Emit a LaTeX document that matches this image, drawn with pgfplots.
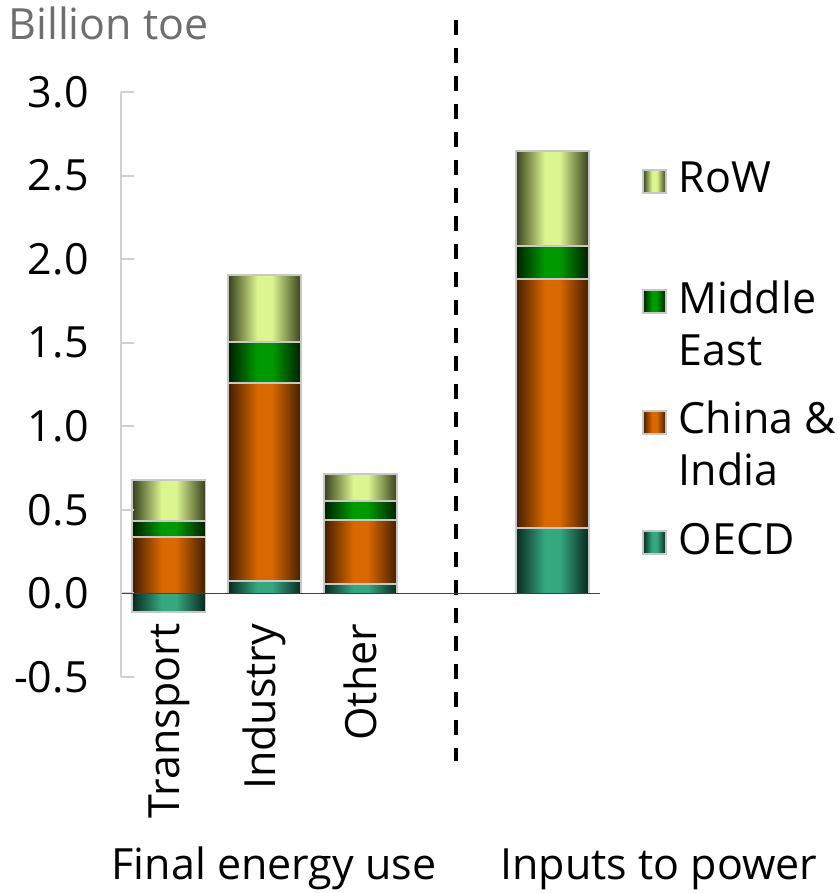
\documentclass[border=0pt]{standalone}
\usepackage{fontspec}
\setmainfont{Open Sans}
\usepackage{pgfplots}
\usepackage{pgfplotstable}
\pgfplotsset{compat=1.18}

\definecolor{axisgray}{HTML}{D0D0D0}
\definecolor{bordergray}{HTML}{C8C8C8}
\definecolor{unitgray}{HTML}{6E6E6E}
\definecolor{rowL}{HTML}{DCF590}
\definecolor{rowD}{HTML}{38401C}
\definecolor{meL}{HTML}{009A00}
\definecolor{meD}{HTML}{001E00}
\definecolor{ciL}{HTML}{DA6800}
\definecolor{ciD}{HTML}{441E00}
\definecolor{oeL}{HTML}{36A880}
\definecolor{oeD}{HTML}{08281E}

% dark edges, bright centre band (the 25bp--75bp part spans the bar)
\pgfdeclarehorizontalshading{rowS}{100bp}{color(0bp)=(rowD); color(25bp)=(rowD);
  color(45bp)=(rowL); color(55bp)=(rowL); color(75bp)=(rowD); color(100bp)=(rowD)}
\pgfdeclarehorizontalshading{meS}{100bp}{color(0bp)=(meD); color(25bp)=(meD);
  color(45bp)=(meL); color(55bp)=(meL); color(75bp)=(meD); color(100bp)=(meD)}
\pgfdeclarehorizontalshading{ciS}{100bp}{color(0bp)=(ciD); color(25bp)=(ciD);
  color(45bp)=(ciL); color(55bp)=(ciL); color(75bp)=(ciD); color(100bp)=(ciD)}
\pgfdeclarehorizontalshading{oeS}{100bp}{color(0bp)=(oeD); color(25bp)=(oeD);
  color(45bp)=(oeL); color(55bp)=(oeL); color(75bp)=(oeD); color(100bp)=(oeD)}

\newcommand\chartfont{\fontsize{21.5}{26}\selectfont}

% segments per sector (billion toe); the negative OECD transport value is drawn separately
\pgfplotstableread{
x   oecd   china  mideast row
0   0.000  0.337  0.096   0.244
1   0.074  1.183  0.248   0.401
2   0.054  0.385  0.114   0.160
4   0.393  1.487  0.200   0.569
}\energy

\pgfplotsset{
  frame/.style={
    width=239.5pt, height=292.5pt, scale only axis,
    xmin=-0.5, xmax=4.5, ymin=-0.5, ymax=3.0,
    enlargelimits=false, clip=false,
  },
  bars/.style={frame, hide axis, ybar stacked, bar width=36.5pt},
  seg/.style={
    draw=bordergray, line width=0.9pt, shade, shading=#1,
    legend image code/.code={\draw[draw=bordergray, line width=0.9pt,
      shade, shading=#1] (0pt,0pt) rectangle (11.5pt,11.5pt);},
  },
}

% one stacked column per sector, so that each bar carries its own shading
\newcommand\sector[2]{%
\begin{axis}[bars]
\addplot[seg=oeS, restrict x to domain=#1:#2] table[x=x, y=oecd] {\energy};
\addplot[seg=ciS, restrict x to domain=#1:#2] table[x=x, y=china] {\energy};
\addplot[seg=meS, restrict x to domain=#1:#2] table[x=x, y=mideast] {\energy};
\addplot[seg=rowS, restrict x to domain=#1:#2] table[x=x, y=row] {\energy};
\end{axis}}

\begin{document}
\begin{tikzpicture}
\sector{-0.2}{0.2}
\sector{0.8}{1.2}
\sector{1.8}{2.2}
\sector{3.8}{4.2}

% negative OECD contribution to transport
\begin{axis}[frame, hide axis, ybar, bar width=36.5pt]
\addplot[seg=oeS] coordinates {(0,-0.110)};
\end{axis}

\begin{axis}[
  frame,
  axis on top,
  axis x line*=middle, axis y line*=left,
  x axis line style={draw=black!75, line width=0.75pt},
  y axis line style={draw=axisgray, line width=1pt},
  xtick={0,1,2}, xticklabels={Transport,Industry,Other},
  xtick style={draw=none},
  xticklabel style={rotate=90, anchor=east, inner sep=0pt, font=\chartfont},
  xticklabel shift=15pt,
  ytick={-0.5,0,0.5,1,1.5,2,2.5,3},
  yticklabels={-0.5,0.0,0.5,1.0,1.5,2.0,2.5,3.0},
  ytick style={draw=axisgray, line width=1pt},
  major tick length=6.5pt, tick align=inside,
  yticklabel style={inner sep=0pt, xshift=-16pt, font=\chartfont},
  legend style={at={(rel axis cs:1.0877,0.8896)}, anchor=north west,
    draw=none, fill=none, inner sep=0pt, outer sep=0pt,
    nodes={inner sep=0pt}, column sep=6pt, row sep=40.5pt,
    cells={anchor=base west}, font=\chartfont},
]
\addlegendimage{seg=rowS}
\addlegendentry{\parbox[t]{5cm}{\strut RoW}}
\addlegendimage{seg=meS}
\addlegendentry{\parbox[t]{5cm}{\strut Middle\\\strut East}}
\addlegendimage{seg=ciS}
\addlegendentry{\parbox[t]{5cm}{\strut China \&\\\strut India}}
\addlegendimage{seg=oeS}
\addlegendentry{\parbox[t]{5cm}{\strut OECD}}

% divider between final energy use and inputs to power
\draw[black, line width=2pt, dash pattern=on 7.5pt off 6.5pt]
  (axis cs:3,3.433) -- (axis cs:3,-1.0);
\end{axis}

\node[anchor=base west, text=unitgray, font=\chartfont, inner sep=0pt]
  at ([shift={(-56.5pt,318.5pt)}]current axis.south west) {Billion toe};
\node[anchor=base, font=\chartfont, inner sep=0pt]
  at ([shift={(76.5pt,-101pt)}]current axis.south west) {Final energy use};
\node[anchor=base, font=\chartfont, inner sep=0pt]
  at ([shift={(269pt,-101pt)}]current axis.south west) {Inputs to power};

\pgfresetboundingbox
\path[use as bounding box] ([shift={(-60.5pt,-108pt)}]current axis.south west)
  rectangle ++(418.5pt,446.5pt);
\end{tikzpicture}
\end{document}
